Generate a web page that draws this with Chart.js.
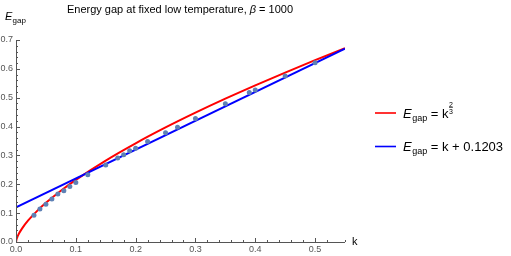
<!DOCTYPE html>
<html>
<head>
<meta charset="utf-8">
<script src="https://cdn.jsdelivr.net/npm/chart.js@4.4.1/dist/chart.umd.min.js"></script>
<style>
html, body { margin: 0; padding: 0; background: #fff; }
#wrap { width: 511px; height: 256px; }
</style>
</head>
<body>
<div id="wrap"><canvas id="gapChart"></canvas></div>
<script>
// measured gap vs k (dots)
const dotK = [0.03, 0.04, 0.05, 0.06, 0.07, 0.08, 0.09, 0.1, 0.12, 0.15, 0.17, 0.18, 0.19, 0.2, 0.22, 0.25, 0.27, 0.3, 0.35, 0.39, 0.4, 0.45, 0.5];
const dotE = [0.093, 0.114, 0.131, 0.149, 0.166, 0.178, 0.192, 0.206, 0.233, 0.267, 0.291, 0.302, 0.316, 0.325, 0.348, 0.379, 0.398, 0.428, 0.479, 0.518, 0.527, 0.575, 0.621];
// red curve
const powK = [0, 0.001, 0.0025, 0.005, 0.01, 0.02, 0.035, 0.05, 0.075, 0.1, 0.15, 0.2, 0.25, 0.3, 0.35, 0.4, 0.45, 0.5, 0.55];
const powE = [0, 0.01, 0.0184, 0.0292, 0.0464, 0.0737, 0.107, 0.1357, 0.1778, 0.2154, 0.2823, 0.342, 0.3969, 0.4481, 0.4966, 0.5429, 0.5872, 0.63, 0.6713];
// blue line
const linK = [0, 0.55];
const linE = [0.1203, 0.6703];

const titleParts = ['Energy gap at fixed low temperature, ', 'β', ' = 1000'];
const legendRows = [
  { color: '#ff0000', rhs: 'k', frac: ['2', '3'] },
  { color: '#0000ff', rhs: 'k + 0.1203' }
];

const FONT = "'Liberation Sans', Arial, sans-serif";
const AXIS = '#555';

const pts = (xs, ys) => xs.map((x, i) => ({ x: x, y: ys[i] }));
const isMajor = v => Math.abs(v * 10 - Math.round(v * 10)) < 1e-6;

const extras = {
  id: 'extras',
  afterDraw(chart) {
    const ctx = chart.ctx;
    const a = chart.chartArea;
    const xs = chart.scales.x, ys = chart.scales.y;
    ctx.save();
    // axes
    ctx.strokeStyle = AXIS;
    ctx.lineWidth = 1;
    ctx.beginPath();
    ctx.moveTo(a.left, a.bottom + 0.5); ctx.lineTo(a.right, a.bottom + 0.5);
    ctx.moveTo(a.left + 0.5, a.bottom); ctx.lineTo(a.left + 0.5, a.top);
    xs.ticks.forEach(t => {
      const px = Math.round(xs.getPixelForValue(t.value)) + 0.5;
      const len = isMajor(t.value) ? 4 : 2;
      ctx.moveTo(px, a.bottom); ctx.lineTo(px, a.bottom - len);
    });
    ys.ticks.forEach(t => {
      const py = Math.round(ys.getPixelForValue(t.value)) + 0.5;
      const len = isMajor(t.value) ? 4 : 2;
      ctx.moveTo(a.left, py); ctx.lineTo(a.left + len, py);
    });
    ctx.stroke();

    // title
    ctx.fillStyle = '#000';
    ctx.textBaseline = 'alphabetic';
    ctx.font = '11px ' + FONT;
    const w0 = ctx.measureText(titleParts[0]).width;
    ctx.font = 'italic 11px ' + FONT;
    const w1 = ctx.measureText(titleParts[1]).width;
    ctx.font = '11px ' + FONT;
    const w2 = ctx.measureText(titleParts[2]).width;
    let tx = 180 - (w0 + w1 + w2) / 2;
    ctx.fillText(titleParts[0], tx, 13);
    ctx.font = 'italic 11px ' + FONT;
    ctx.fillText(titleParts[1], tx + w0, 13);
    ctx.font = '11px ' + FONT;
    ctx.fillText(titleParts[2], tx + w0 + w1, 13);

    // axis labels
    ctx.font = 'italic 11px ' + FONT;
    ctx.fillText('E', 5, 20);
    ctx.font = '8px ' + FONT;
    ctx.fillText('gap', 12.5, 23);
    ctx.font = '11px ' + FONT;
    ctx.fillText('k', 352, 245);

    // legend
    legendRows.forEach((r, i) => {
      const y = 113 + i * 33.5;
      ctx.strokeStyle = r.color;
      ctx.lineWidth = 1.6;
      ctx.beginPath();
      ctx.moveTo(375, y); ctx.lineTo(396, y);
      ctx.stroke();
      const base = y + 4.5;
      let x = 403;
      ctx.fillStyle = '#000';
      ctx.font = 'italic 13px ' + FONT;
      ctx.fillText('E', x, base);
      x += ctx.measureText('E').width + 0.5;
      ctx.font = '9px ' + FONT;
      ctx.fillText('gap', x, base + 3);
      x += ctx.measureText('gap').width;
      ctx.font = '13px ' + FONT;
      const s = ' = ' + r.rhs;
      ctx.fillText(s, x, base);
      x += ctx.measureText(s).width + 0.5;
      if (r.frac) {
        ctx.font = '7px ' + FONT;
        const fw = ctx.measureText(r.frac[0]).width;
        ctx.fillText(r.frac[0], x, base - 11);
        ctx.fillText(r.frac[1], x, base - 3.5);
        ctx.strokeStyle = '#000';
        ctx.lineWidth = 0.6;
        ctx.beginPath();
        ctx.moveTo(x, base - 10); ctx.lineTo(x + fw, base - 10);
        ctx.stroke();
      }
    });
    ctx.restore();
  }
};

new Chart(document.getElementById('gapChart').getContext('2d'), {
  type: 'scatter',
  data: {
    datasets: [
      {
        label: 'data',
        data: pts(dotK, dotE),
        backgroundColor: 'rgb(94,129,181)',
        borderWidth: 0,
        pointRadius: 2.5,
        order: 0
      },
      {
        label: 'E = k + 0.1203',
        data: pts(linK, linE),
        showLine: true,
        borderColor: '#0000ff',
        borderWidth: 2,
        pointRadius: 0,
        order: 1
      },
      {
        label: 'E = k^(2/3)',
        data: pts(powK, powE),
        showLine: true,
        cubicInterpolationMode: 'monotone',
        borderColor: '#ff0000',
        borderWidth: 2,
        pointRadius: 0,
        order: 2
      }
    ]
  },
  options: {
    responsive: true,
    maintainAspectRatio: false,
    animation: false,
    events: [],
    layout: { padding: { top: 40, right: 166, left: 0, bottom: 0 } },
    plugins: {
      legend: { display: false },
      tooltip: { enabled: false }
    },
    scales: {
      x: {
        type: 'linear',
        min: 0,
        max: 0.55,
        afterFit: s => { s.height = 14; },
        grid: { display: false, drawTicks: false },
        border: { display: false },
        ticks: {
          stepSize: 0.02,
          autoSkip: false,
          maxRotation: 0,
          padding: 2,
          color: AXIS,
          font: { family: FONT, size: 9 },
          callback: v => isMajor(v) ? v.toFixed(1) : ''
        }
      },
      y: {
        type: 'linear',
        min: 0,
        max: 0.7,
        afterFit: s => { s.width = 16; },
        grid: { display: false, drawTicks: false },
        border: { display: false },
        ticks: {
          stepSize: 0.02,
          autoSkip: false,
          padding: 3,
          color: AXIS,
          font: { family: FONT, size: 9 },
          callback: v => isMajor(v) ? v.toFixed(1) : ''
        }
      }
    }
  },
  plugins: [extras]
});
</script>
</body>
</html>
